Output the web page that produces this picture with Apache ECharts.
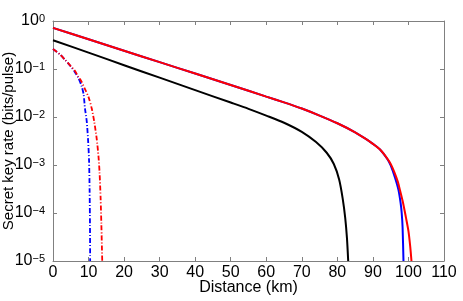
<!DOCTYPE html>
<html><head><meta charset="utf-8">
<script src="https://cdn.jsdelivr.net/npm/echarts@6/dist/echarts.min.js"></script>
<style>html,body{margin:0;padding:0;background:#fff}#c{width:463px;height:301px}</style>
</head><body><div id="c"></div>
<script>
// distances (km) and key rates (bits/pulse)
const blackX = [0,10,20,30,40,50,55,60,65,70,74,77,79,80.5,81.5,82.2,82.7,83.05];
const blackY = [0.398,0.219,0.120,0.066,0.0363,0.020,0.0148,0.0107,0.0076,0.0049,0.0030,0.0018,0.00105,0.0005,0.0002,8e-5,3e-5,1e-5];

const redX = [0,10,20,30,40,50,60,65,70,75,80,85,88,90,92,94,95,96,97,97.6,98.5,99.3,100,100.5,100.85];
const redY = [0.72,0.416,0.240,0.139,0.0804,0.0465,0.0266,0.0202,0.0150,0.0107,0.0074,0.0048,0.0035,0.00275,0.0021,0.00138,0.00105,0.00072,0.00045,0.0003,0.00016,8e-5,4.2e-5,2e-5,1e-5];

const blueX = [0,10,20,30,40,50,60,65,70,75,80,85,88,90,92,94,95,96.2,97.2,97.8,98.1,98.35,98.6];
const blueY = [0.72,0.416,0.240,0.139,0.0804,0.0465,0.0266,0.0202,0.0150,0.0107,0.0074,0.0048,0.0035,0.00275,0.0021,0.00135,0.00098,0.00055,0.0003,0.00016,0.0001,5e-5,1e-5];

const redDashX = [0,2,3.4,5,6,7.1,8,9,10,10.9,11.6,12.3,12.8,13.1,13.4,13.6,13.85];
const redDashY = [0.26,0.2,0.155,0.115,0.095,0.07,0.055,0.038,0.026,0.015,0.008,0.0035,0.0015,0.0007,0.0002,6e-5,1e-5];

const blueDashX = [0,2,3.4,5,6,7.1,8,8.6,9,9.5,9.9,10.15,10.3,10.4,10.45];
const blueDashY = [0.26,0.2,0.155,0.113,0.09,0.066,0.045,0.03,0.015,0.008,0.003,0.0012,0.0003,6e-5,1e-5];

const xTicks = [0,10,20,30,40,50,60,70,80,90,100,110];

function pairs(xs, ys){ return xs.map((x,i)=>[x, ys[i]]); }

const FONT = 'Liberation Sans';
const axisGray = '#808080';
const chart = echarts.init(document.getElementById('c'), null, {renderer:'canvas'});

function line(xs, ys, color, dash, w){
  return {
    type:'line', data:pairs(xs,ys), showSymbol:false, symbol:'none', smooth:0.25,
    lineStyle:{color:color, width:w, type:dash||'solid'}, clip:true, animation:false
  };
}

chart.setOption({
  animation:false,
  textStyle:{fontFamily:FONT},
  grid:{left:53, right:19, top:21, bottom:40, containLabel:false, outerBoundsMode:'none'},
  xAxis:[{
    type:'value', min:0, max:110, interval:10, position:'bottom',
    axisLine:{show:true, onZero:false, lineStyle:{color:axisGray}},
    axisTick:{show:true, inside:true, length:4, lineStyle:{color:axisGray}},
    splitLine:{show:false},
    axisLabel:{color:'#000', fontSize:16, margin:4, fontFamily:FONT,
      formatter:v=> xTicks.indexOf(v)>=0 ? String(v) : ''},
    name:'Distance (km)', nameLocation:'middle', nameGap:19, nameMoveOverlap:false,
    nameTextStyle:{color:'#000', fontSize:16, fontFamily:FONT, verticalAlign:'top'}
  },{
    type:'value', min:0, max:110, interval:10, position:'top',
    axisLine:{show:true, onZero:false, lineStyle:{color:axisGray}},
    axisTick:{show:true, inside:true, length:4, lineStyle:{color:axisGray}},
    axisLabel:{show:false}, splitLine:{show:false}
  }],
  yAxis:[{
    type:'log', logBase:10, min:1e-5, max:1, position:'left',
    axisLine:{show:true, onZero:false, lineStyle:{color:axisGray}},
    axisTick:{show:true, inside:true, length:4, lineStyle:{color:axisGray}},
    splitLine:{show:false},
    axisLabel:{color:'#000', margin:8, fontFamily:FONT,
      formatter:function(v){
        const e = Math.round(Math.log10(v));
        return '{b|10}{s|' + (e<0 ? '\u2212'+(-e) : e) + '}';
      },
      rich:{
        b:{fontSize:16, lineHeight:16, fontFamily:FONT, color:'#000', verticalAlign:'bottom'},
        s:{fontSize:11, lineHeight:11, fontFamily:FONT, color:'#000', verticalAlign:'top', padding:[0,0,9,0]}
      }
    },
    name:'Secret key rate (bits/pulse)', nameLocation:'middle', nameGap:37, nameRotate:90, nameMoveOverlap:false,
    nameTextStyle:{color:'#000', fontSize:15, fontFamily:FONT}
  },{
    type:'log', logBase:10, min:1e-5, max:1, position:'right',
    axisLine:{show:true, onZero:false, lineStyle:{color:axisGray}},
    axisTick:{show:true, inside:true, length:4, lineStyle:{color:axisGray}},
    axisLabel:{show:false}, splitLine:{show:false}
  }],
  series:[
    line(blueDashX, blueDashY, '#0000ff', [5,2,1,2], 1.8),
    line(redDashX, redDashY, '#ff0000', [5,2,1,2], 1.8),
    line(blackX, blackY, '#000000', 'solid', 2),
    line(blueX, blueY, '#0000ff', 'solid', 2),
    line(redX, redY, '#ff0000', 'solid', 2)
  ]
});
</script></body></html>
